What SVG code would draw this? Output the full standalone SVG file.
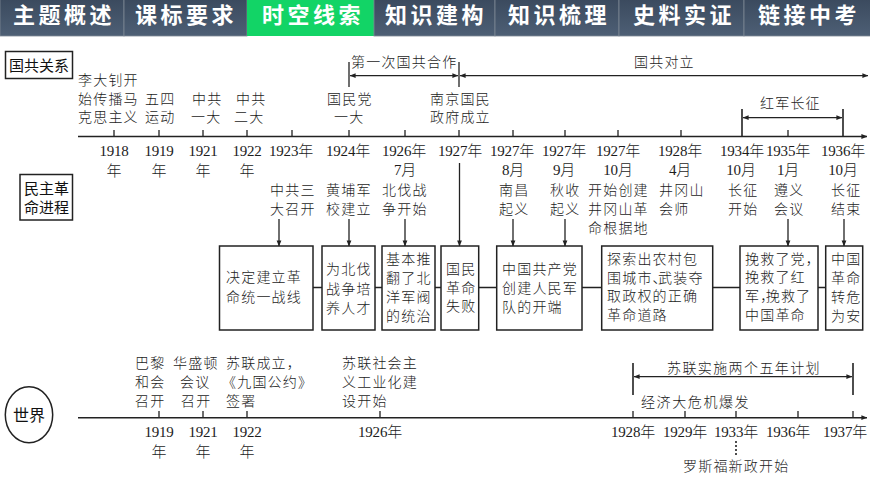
<svg xmlns="http://www.w3.org/2000/svg" width="870" height="489" viewBox="0 0 870 489">
<style>
text{font-family:"Liberation Serif","Noto Sans CJK SC",serif;fill:#1c1c1c}
.t{font-size:14px;letter-spacing:1.2px;font-weight:300}
.y{font-size:15px;text-anchor:middle;letter-spacing:-.2px;font-weight:300}
.h{font-size:22px;font-weight:700;letter-spacing:3.5px;fill:#fff;font-family:"Liberation Sans","Noto Sans CJK SC",sans-serif}
.l{font-size:15px;font-family:"Liberation Sans","Noto Sans CJK SC",sans-serif;fill:#111}
.b{fill:#fff;stroke:#222;stroke-width:1.5}
.a{stroke:#222;stroke-width:1.6;fill:none}
.c{stroke:#222;stroke-width:1.3;fill:none}
.tab{fill:url(#tg);stroke:#7d8894;stroke-width:.8}
.cm{letter-spacing:-8.5px}
</style>
<defs>
<linearGradient id="tg" x1="0" y1="0" x2="0" y2="1"><stop offset="0" stop-color="#3b4a5e"/><stop offset="1" stop-color="#4d5f75"/></linearGradient>
<marker id="e" viewBox="0 0 8 8" refX="7.5" refY="4" markerWidth="6" markerHeight="6" orient="auto-start-reverse" markerUnits="userSpaceOnUse"><path d="M0 .8L8 4L0 7.2z" fill="#222"/></marker>
</defs>
<g id="header">
<rect class="tab" x="0" y="-1" width="124" height="37"/><rect class="tab" x="124" y="-1" width="123" height="37"/>
<rect x="247" y="-1" width="127" height="37" fill="#12d466"/>
<rect class="tab" x="374" y="-1" width="121" height="37"/><rect class="tab" x="495" y="-1" width="124" height="37"/><rect class="tab" x="619" y="-1" width="125" height="37"/><rect class="tab" x="744" y="-1" width="127" height="37"/>
<text class="h" x="13" y="23">主题概述</text><text class="h" x="135" y="23">课标要求</text><text class="h" x="262" y="23">时空线索</text><text class="h" x="385" y="23">知识建构</text><text class="h" x="508" y="23">知识梳理</text><text class="h" x="633" y="23">史料实证</text><text class="h" x="758" y="23">链接中考</text>
</g>
<g id="connectors">
<path class="a" d="M78 136.5H867" marker-end="url(#e)"/>
<path class="c" d="M114 130V136M159 130V136M203 130V136M247 130V136M292 130V136M349 130V136M405 130V136M459 130V136M513 130V136M565 130V136M618 130V136M681 130V136M788 130V136"/>
<path class="c" d="M349 62V87M459 62V87"/>
<path class="c" d="M350 75.7H458" marker-start="url(#e)" marker-end="url(#e)"/>
<path class="c" d="M460 75.7H868" marker-start="url(#e)" marker-end="url(#e)"/>
<path class="a" d="M742 109V136M843 109V136"/>
<path class="c" d="M743 117.7H842" marker-start="url(#e)" marker-end="url(#e)"/>
<path class="c" marker-end="url(#e)" d="M279 219V246"/><path class="c" marker-end="url(#e)" d="M349 219V246"/><path class="c" marker-end="url(#e)" d="M405 219V246"/><path class="c" marker-end="url(#e)" d="M459.500 163V246"/><path class="c" marker-end="url(#e)" d="M513 219V246"/><path class="c" marker-end="url(#e)" d="M565 219V246"/><path class="c" marker-end="url(#e)" d="M788 219V246"/><path class="c" marker-end="url(#e)" d="M844 219V246"/>
<path class="a" d="M313 287.500H322M375 287.500H382M435 287.500H441M479 287.500H497M582 287.500H602M713 287.500H740M818 287.500H826"/>
<path class="a" d="M78 417.700H867" marker-end="url(#e)"/>
<path class="c" d="M159 411V417M203 411V417M247 411V417M380 411V417M633 411V417M685 411V417M736 411V417M798 411V417M853 411V417"/>
<path class="a" d="M633 363V395M853 363V395"/>
<path class="c" d="M634 376.700H852" marker-start="url(#e)" marker-end="url(#e)"/>
<path d="M736 441V456" stroke="#222" stroke-width="1.600" stroke-dasharray="2 2"/>
</g>
<g id="node-gongguan"><rect class="b" x="5.500" y="51.500" width="67" height="27"/><text class="l" x="9" y="71">国共关系</text></g>
<g id="node-minzhu"><rect class="b" x="20" y="174.500" width="52.500" height="45.500"/><text class="l" x="24" y="194">民主革</text><text class="l" x="24" y="213">命进程</text></g>
<g id="node-shijie"><ellipse class="b" cx="29" cy="414.700" rx="23.700" ry="28"/><text class="l" x="13" y="421" style="font-size:16px">世界</text></g>
<g id="periods">
<text class="t" x="351" y="67">第一次国共合作</text><text class="t" x="634" y="67">国共对立</text><text class="t" x="760" y="108">红军长征</text>
<text class="t" x="667" y="373" style="letter-spacing:1.4px">苏联实施两个五年计划</text>
</g>
<g id="events-top">
<text class="t" x="78" y="85">李大钊开</text><text class="t" x="78" y="104">始传播马</text><text class="t" x="78" y="122">克思主义</text>
<text class="t" x="145" y="104">五四</text><text class="t" x="145" y="122">运动</text>
<text class="t" x="192" y="104">中共</text><text class="t" x="191" y="122">一大</text>
<text class="t" x="236" y="104">中共</text><text class="t" x="234" y="122">二大</text>
<text class="t" x="327" y="104">国民党</text><text class="t" x="334" y="122">一大</text>
<text class="t" x="430" y="104">南京国民</text><text class="t" x="430" y="122">政府成立</text>
</g>
<g id="years-top">
<text class="y" x="114" y="156">1918</text><text class="y" x="114" y="176">年</text>
<text class="y" x="159" y="156">1919</text><text class="y" x="159" y="176">年</text>
<text class="y" x="203" y="156">1921</text><text class="y" x="203" y="176">年</text>
<text class="y" x="247" y="156">1922</text><text class="y" x="247" y="176">年</text>
<text class="y" x="291" y="156">1923年</text><text class="y" x="348" y="156">1924年</text>
<text class="y" x="404" y="156">1926年</text><text class="y" x="405" y="175">7月</text>
<text class="y" x="460" y="156">1927年</text>
<text class="y" x="512" y="156">1927年</text><text class="y" x="513" y="175">8月</text>
<text class="y" x="564" y="156">1927年</text><text class="y" x="564" y="175">9月</text>
<text class="y" x="618" y="156">1927年</text><text class="y" x="618" y="175">10月</text>
<text class="y" x="680" y="156">1928年</text><text class="y" x="680" y="175">4月</text>
<text class="y" x="742" y="156">1934年</text><text class="y" x="741" y="175">10月</text>
<text class="y" x="788" y="156">1935年</text><text class="y" x="788" y="175">1月</text>
<text class="y" x="843" y="156">1936年</text><text class="y" x="843" y="175">10月</text>
</g>
<g id="events-mid">
<text class="t" x="270" y="195">中共三</text><text class="t" x="270" y="214">大召开</text>
<text class="t" x="326" y="195">黄埔军</text><text class="t" x="326" y="214">校建立</text>
<text class="t" x="382" y="195">北伐战</text><text class="t" x="382" y="214">争开始</text>
<text class="t" x="499" y="195">南昌</text><text class="t" x="499" y="214">起义</text>
<text class="t" x="550" y="195">秋收</text><text class="t" x="550" y="214">起义</text>
<text class="t" x="588" y="195">开始创建</text><text class="t" x="588" y="214">井冈山革</text><text class="t" x="588" y="233">命根据地</text>
<text class="t" x="659" y="195">井冈山</text><text class="t" x="659" y="214">会师</text>
<text class="t" x="728" y="195">长征</text><text class="t" x="728" y="214">开始</text>
<text class="t" x="774" y="195">遵义</text><text class="t" x="774" y="214">会议</text>
<text class="t" x="831" y="195">长征</text><text class="t" x="831" y="214">结束</text>
</g>
<g id="box-1"><rect class="b" x="219.500" y="246" width="93.500" height="84"/><text class="t" x="226" y="282">决定建立革</text><text class="t" x="226" y="302">命统一战线</text></g>
<g id="box-2"><rect class="b" x="322" y="246" width="53" height="84"/><text class="t" x="326" y="274">为北伐</text><text class="t" x="326" y="294">战争培</text><text class="t" x="326" y="313">养人才</text></g>
<g id="box-3"><rect class="b" x="382" y="246" width="53" height="84"/><text class="t" x="386" y="264">基本推</text><text class="t" x="386" y="283">翻了北</text><text class="t" x="386" y="302">洋军阀</text><text class="t" x="386" y="321">的统治</text></g>
<g id="box-4"><rect class="b" x="441" y="246" width="37.700" height="84"/><text class="t" x="446" y="274">国民</text><text class="t" x="446" y="293">革命</text><text class="t" x="446" y="311">失败</text></g>
<g id="box-5"><rect class="b" x="496.700" y="246" width="85.300" height="84"/><text class="t" x="502" y="274">中国共产党</text><text class="t" x="502" y="293">创建人民军</text><text class="t" x="502" y="312">队的开端</text></g>
<g id="box-6"><rect class="b" x="601.700" y="246" width="111" height="84"/><text class="t" x="607" y="264">探索出农村包</text><text class="t" x="607" y="283">围城市<tspan class="cm">、</tspan>武装夺</text><text class="t" x="607" y="301">取政权的正确</text><text class="t" x="607" y="320">革命道路</text></g>
<g id="box-7"><rect class="b" x="740" y="246" width="78" height="84"/><text class="t" x="745" y="264">挽救了党，</text><text class="t" x="745" y="282">挽救了红</text><text class="t" x="745" y="301">军<tspan class="cm">，</tspan>挽救了</text><text class="t" x="745" y="320">中国革命</text></g>
<g id="box-8"><rect class="b" x="825.700" y="246" width="37" height="84"/><text class="t" x="831" y="264">中国</text><text class="t" x="831" y="283">革命</text><text class="t" x="831" y="302">转危</text><text class="t" x="831" y="321">为安</text></g>
<g id="events-world">
<text class="t" x="135" y="368">巴黎</text><text class="t" x="135" y="387">和会</text><text class="t" x="135" y="406">召开</text>
<text class="t" x="173" y="368">华盛顿</text><text class="t" x="180" y="387">会议</text><text class="t" x="181" y="406">召开</text>
<text class="t" x="226" y="368">苏联成立，</text><text class="t" x="222" y="387">《九国公约》</text><text class="t" x="226" y="406">签署</text>
<text class="t" x="342" y="368">苏联社会主</text><text class="t" x="342" y="387">义工业化建</text><text class="t" x="342" y="406">设开始</text>
<text class="t" x="641" y="407" style="letter-spacing:1.600px">经济大危机爆发</text>
<text class="t" x="683" y="471">罗斯福新政开始</text>
</g>
<g id="years-world">
<text class="y" x="159" y="437">1919</text><text class="y" x="159" y="457">年</text>
<text class="y" x="203" y="437">1921</text><text class="y" x="203" y="457">年</text>
<text class="y" x="247" y="437">1922</text><text class="y" x="247" y="457">年</text>
<text class="y" x="380" y="437">1926年</text>
<text class="y" x="633" y="437">1928年</text><text class="y" x="685" y="437">1929年</text><text class="y" x="736" y="437">1933年</text><text class="y" x="788" y="437">1936年</text><text class="y" x="845" y="437">1937年</text>
</g>
</svg>
